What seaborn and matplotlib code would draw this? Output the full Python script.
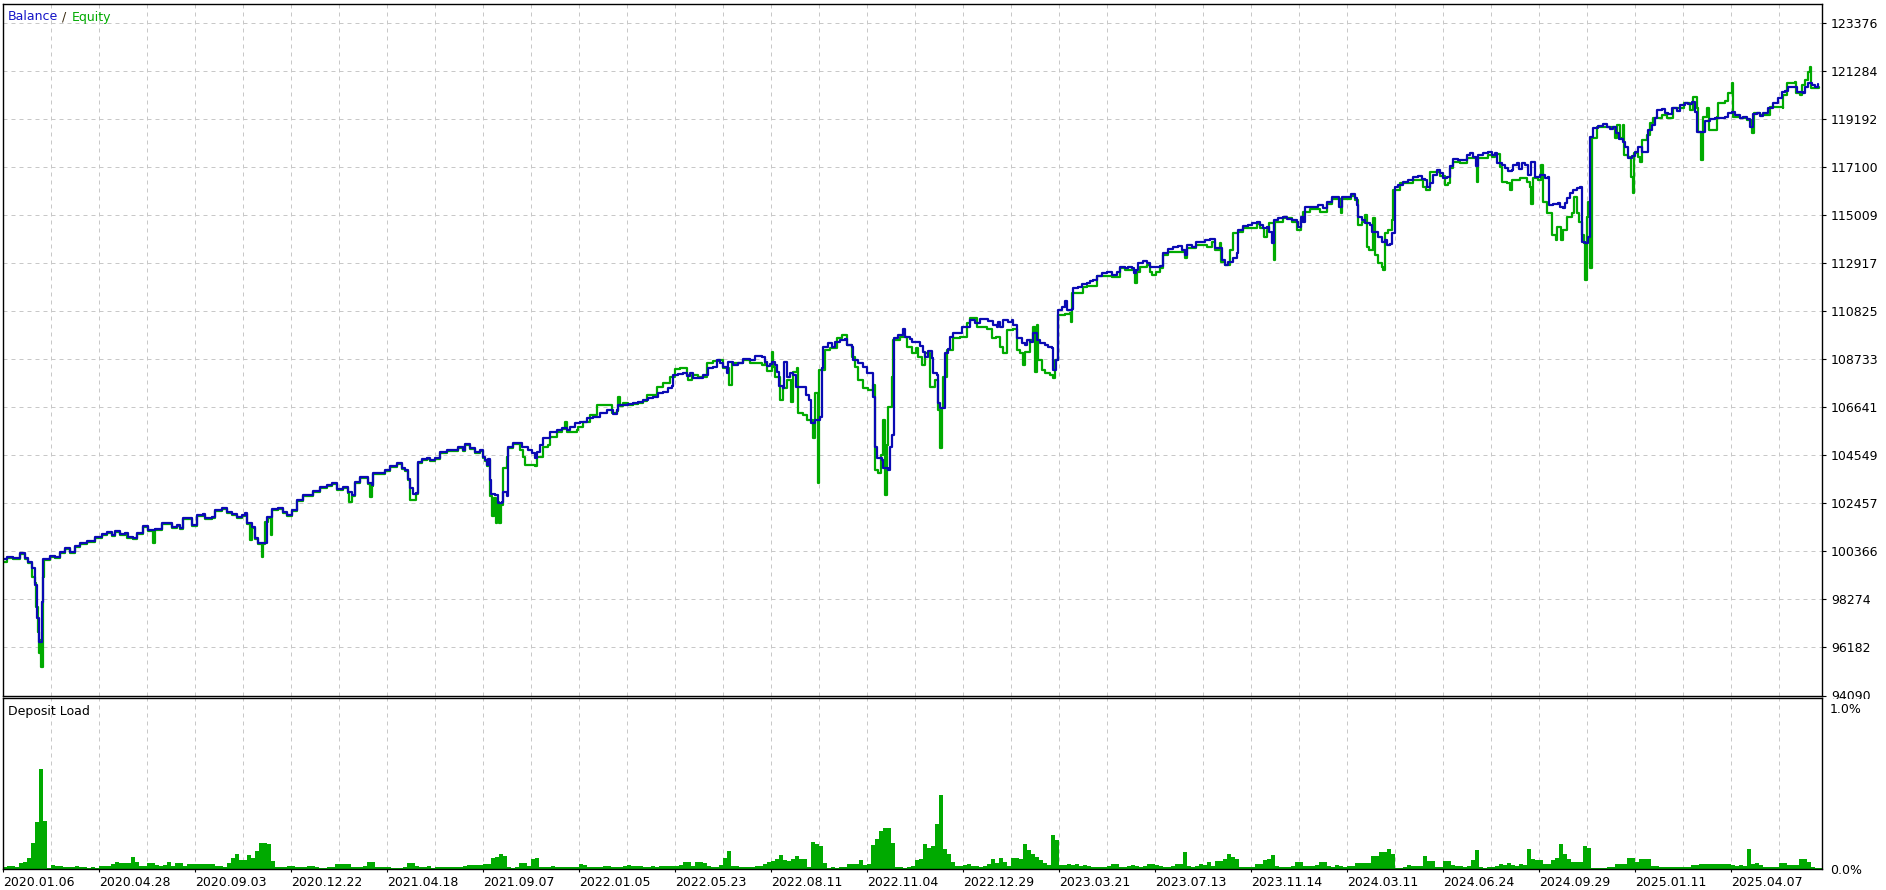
import numpy as np
import pandas as pd
import matplotlib
matplotlib.use("Agg")
import matplotlib.pyplot as plt
import seaborn as sns
from matplotlib.patches import Rectangle

# ---------------- data ----------------
y_ticks = [94090, 96182, 98274, 100366, 102457, 104549, 106641, 108733,
           110825, 112917, 115009, 117100, 119192, 121284, 123376]

date_labels = ["2020.01.06", "2020.04.28", "2020.09.03", "2020.12.22", "2021.04.18",
               "2021.09.07", "2022.01.05", "2022.05.23", "2022.08.11", "2022.11.04",
               "2022.12.29", "2023.03.21", "2023.07.13", "2023.11.14", "2024.03.11",
               "2024.06.24", "2024.09.29", "2025.01.11", "2025.04.07"]
date_label_idx = [3 + 96 * k for k in range(len(date_labels))]

# deal index (horizontal position in the tester graph) and balance
bal_x = [3, 7, 13, 20, 25, 28, 32, 35, 36.7, 39.3, 41.7, 43.3, 50, 55, 60, 65, 70, 75, 80, 86.7,
         95, 101.7, 106.7, 111.7, 115, 120, 125, 128.3, 133.3, 136.7, 143.3, 148.3, 155, 161.7, 166.7,
         171.7, 176.7, 180, 182.7, 188.3, 191.7, 196.7, 203.3, 205, 211.7, 215, 221.7, 226.7, 231.7,
         236.7, 241.7, 245, 246.7, 251.7, 255, 258.3, 265, 266.7, 271.7, 278.3, 283.3, 286.7, 291.7,
         296.7, 303.3, 308.3, 313.3, 320, 326.7, 331.7, 336.7, 343.3, 348.3, 351.7, 355, 360, 365,
         368.3, 371.7, 373.3, 380,
         385, 390, 396.7, 401.7, 405, 408.3, 410, 412.7, 416, 418.3, 421.7, 426.7, 430, 435, 440,
         446.7, 453.3, 458.3, 463.3, 465, 470, 475, 480, 482.7, 485, 486.7, 488.3, 490, 490.7, 495,
         498.3, 501.7, 503.3, 506.7, 508.3, 513.3, 518.3, 521.7, 525, 528.3, 531.7, 535, 536.7, 540,
         543.3, 550, 556.7, 561.7, 566.7, 570, 575, 580, 586.7, 593.3, 600, 606.7, 613.3, 616.7,
         618.3, 623.3, 628.3, 633.3, 638.3, 643.3, 648.3, 653.3, 658.3, 663.3, 668.3, 671.7, 673.3,
         678.3, 683.3, 686.7, 690, 693.3, 700, 703.3, 708.3, 713.3, 716.7, 720, 723.3, 726.7, 728.3,
         733.3, 738.3, 743.3, 750,
         755, 761.7, 765, 766.7, 770, 771.7, 775, 776.7, 779.3, 782.7, 784.3, 786.7, 790, 793.3, 796,
         803.3, 806, 809.3, 811, 815, 820, 821.7, 823.3, 828.3, 831.7, 835, 840, 845, 846.7, 851.7,
         853.3, 858.3, 862.7, 866.7, 871.7, 873.3, 875, 876.7, 881.7, 883.3, 888.3, 890, 891.7, 894,
         898.3, 902.7, 905, 910, 911.7, 916.7, 920, 923.3, 925, 928.3, 931.7, 933.3, 936.7, 938.3,
         940, 943.3, 945, 948.3, 950, 953.3, 958.3, 961.7, 970, 975, 980, 988.3, 993.3, 996.7, 998.3,
         1000, 1003.3, 1008.3, 1011.7, 1013.3, 1017.3, 1021.7, 1025, 1027.3, 1030, 1033.3, 1036.7,
         1040, 1045, 1048.3, 1051.7, 1053.3, 1056, 1058.3, 1061.7, 1065, 1066.7, 1071.7, 1073.3,
         1078.3, 1081.7, 1086.7, 1090, 1093.3, 1096.7, 1101.7, 1106.7, 1111.7, 1116.7, 1120,
         1125, 1128.3, 1131.7, 1134, 1136, 1138.3, 1143.3, 1146.7, 1150, 1155, 1160, 1163.3, 1168.3,
         1173.3, 1178.3, 1181.7, 1185, 1187.3, 1191.7, 1196, 1200, 1205, 1210, 1215, 1218.3, 1221.7,
         1225, 1228.3, 1233.3, 1236.7, 1238.3, 1243.3, 1248.3, 1251.7, 1256.7, 1260, 1263.3, 1266.7,
         1269.3, 1271.7, 1274, 1278.3, 1283.3, 1286.7, 1291.7, 1296.7, 1298.3, 1300.7, 1303.3, 1305,
         1310, 1315, 1318.3, 1323.3, 1326.7, 1331.7, 1336.7, 1339.3, 1341.7, 1346.7, 1350.7, 1355,
         1356.7, 1358.3, 1361.7, 1365, 1370, 1371.7, 1376.7, 1378.3, 1381.7, 1385, 1386.7, 1390,
         1391.7, 1394, 1395, 1398.3, 1403.3, 1408.3, 1413.3, 1418.3, 1421.7, 1425, 1426.7, 1430,
         1433.3, 1436.7, 1440, 1443.3, 1446.7, 1450, 1453.3, 1458.3, 1463.3, 1466.7, 1470, 1473.3,
         1476, 1478.3, 1483.3, 1488.3,
         1491.7, 1495, 1497.3, 1501.7, 1505, 1508.3, 1511.7, 1513.3, 1516.7, 1519.3, 1521.7, 1525,
         1528.3, 1530.7, 1533.3, 1535, 1540, 1545, 1548.3, 1549.3, 1553.3, 1558.3, 1560, 1563.3,
         1565, 1567.3, 1570, 1573.3, 1576.7, 1580, 1581.7, 1585, 1588.3, 1590, 1593.3, 1598.3,
         1603.3, 1606.7, 1610, 1613.3, 1616, 1619.3, 1622.7, 1625, 1628.3, 1631.7, 1635, 1638.3,
         1641.7, 1646.7, 1648.3, 1651.7, 1655, 1656.7, 1661.7, 1665, 1668.3, 1671.7, 1676.7, 1680,
         1685, 1688.3, 1691.7, 1695, 1696.7, 1701.7, 1705, 1710, 1715, 1720, 1725, 1728.3, 1731.7,
         1735, 1740, 1743.3, 1746.7, 1750, 1752.7, 1756.7, 1760, 1763.3, 1768.3, 1773.3, 1778.3,
         1781.7, 1785, 1788.3, 1795, 1796.7, 1800, 1803.3, 1805, 1808.3, 1811.7, 1815, 1818.3]

balance = [100018, 100105, 100075, 100279, 100061, 99913, 99639, 98898, 97459, 96426, 98170, 100018,
           100162, 100131, 100349, 100497, 100349, 100598, 100715, 100829, 100977, 101121, 101221,
           101077, 101264, 101121, 101177, 101003, 100933, 101151, 101469, 101295, 101325, 101587,
           101587, 101439, 101513, 101369, 101805, 101805, 101513, 101949, 101979, 101805, 101875,
           102167, 102241, 102093, 101992, 101875, 101949, 102023, 101587, 101439, 100933, 100741,
           100741, 101875, 102197, 102241, 102093, 101949, 102167, 102602, 102820, 102820, 103008,
           103182, 103256, 103330, 103069, 103182, 102964, 102820, 103400, 103618, 103618, 103330,
           103256, 103792, 103766,
           103910, 104084, 104202, 103984, 103910, 103505, 103112, 102864, 102894, 104246, 104376,
           104420, 104346, 104420, 104708, 104782, 104782, 104926, 104782, 105030, 104856, 104708,
           104782, 104490, 104346, 104128, 104376, 103474, 102864, 102820, 102460, 102529, 102964,
           102777, 104926, 105074, 105074, 104926, 104926, 104782, 104638, 104420, 104708, 105000,
           105292, 105579, 105653, 105727, 105653, 105797, 105945, 106015, 106163, 106233, 106381,
           106525, 106351, 106525, 106743, 106743, 106787, 106817, 106887, 106961, 107035, 107105,
           107253, 107323, 107471, 107571, 108051, 108094, 108151, 108007, 108151, 107907, 107907,
           108051, 108343, 108412, 108704, 108561, 108412, 108151, 108630, 108487, 108561, 108735,
           108704,
           108879, 108822, 108630, 108443, 108530, 108630, 108487, 108195, 107571, 107471, 108630,
           107977, 108125, 108051, 107541, 107541, 107179, 106961, 105945, 106089, 106233, 108343,
           109284, 109432, 109284, 109502, 109576, 109607, 109358, 109284, 108704, 108561, 108412,
           108125, 108125, 107105, 104926, 104420, 104346, 103984, 103910, 104926, 105435, 109650,
           109794, 110042, 109720, 109607, 109502, 109502, 109315, 109066, 108848, 109110, 108778,
           108151, 108051, 106817, 106599, 106599, 108996, 109171, 109720, 109868, 109868, 110156,
           110448, 110304, 110478, 110417, 110230, 110156, 110374, 110156, 110448, 110374, 110448,
           110230, 109650, 109432, 109358, 109576, 109502, 109868, 109576, 109432, 109358, 109284,
           109214, 108268, 108704, 110884, 111027, 111289, 110884, 110914, 111829, 111899, 112017,
           112074, 112161, 112191, 112366, 112483, 112553, 112409, 112553, 112771,
           112701, 112771, 112701, 112483, 112627, 112919, 113032, 112945, 112745, 112745, 112801,
           113355, 113529, 113616, 113686, 113499, 113281, 113717, 113643, 113860, 113860, 113935,
           113965, 113573, 113573, 113063, 112845, 112989, 113137, 113355, 114370, 114545, 114588,
           114662, 114732, 114588, 114444, 114514, 114296, 113791, 114806, 114880, 114950, 114837,
           114806, 114732, 114514, 114950, 114732, 115386, 115386, 115386, 115460, 115316, 115604,
           115822, 115796, 115386, 115822, 115796, 115939, 115752, 115460, 114950, 114806, 114662,
           114588, 114296, 114296, 114078, 113860, 113935, 113717, 113760, 114227, 114227, 116258,
           116332, 116476, 116550, 116694, 116724, 116580, 116550, 116258, 116406, 116768, 116986,
           116842, 116624, 116694, 117160, 117452, 117421, 117421, 117639, 117713, 117565, 117160,
           117639, 117713, 117783,
           117639, 117740, 117278, 117203, 117060, 116955, 116986, 117203, 117278, 117016, 117278,
           117203, 116768, 117347, 117347, 116694, 116768, 116624, 116667, 115460, 115504, 115534,
           115386, 115316, 115560, 115752, 115996, 116114, 116188, 116258, 113860, 113817, 114078,
           118411, 118803, 118903, 118990, 118873, 118759, 118873, 118585, 118324, 118219, 118001,
           117495, 117596, 117783, 118001, 117783, 117783, 118729, 118947, 119239, 119601, 119631,
           119457, 119426, 119675, 119570, 119819, 119919, 119862, 119962, 119527, 118655, 118655,
           119134, 119195, 119239, 119239, 119309, 119457, 119527, 119383, 119239, 119309, 119195,
           118873, 119426, 119457, 119339, 119483, 119675, 119893, 120111, 120398, 120442, 120590,
           120590, 120398, 120398, 120328, 120616, 120764, 120690, 120616, 120734]

eq_x = [3, 7, 13, 20, 25, 28, 32, 35, 36, 38, 39, 40, 41, 42.5, 43.5,
        50, 55, 60, 65, 70, 75, 80, 86.7, 95, 101.7, 106.7, 111.7, 115, 120, 125, 126.7, 128.3,
        133.3, 136.7, 143.3, 148.3, 153, 155, 161.7, 166.7, 171.7, 176.7, 180, 182.7, 188.3,
        191.7, 196.7, 203.3, 205, 211.7, 215, 221.7, 226.7, 231.7, 236.7, 241.7, 245, 246.7, 250,
        251.7, 255, 258.3, 261.7, 262.5, 265, 268, 270.7, 272, 278.3, 283.3, 286.7, 291.7, 296.7,
        303.3, 308.3, 313.3, 320, 326.7, 331.7, 336.7, 343.3, 348.3, 349, 351.7, 355, 360, 365,
        368.3, 370, 371.7, 373.3, 380,
        385, 390, 396.7, 401.7, 405, 408.3, 410, 413, 416, 418.3, 421.7, 426.7, 430, 435, 440,
        446.7, 453.3, 458.3, 463.3, 465, 470, 475, 480, 482.7, 485, 486.7, 488.3, 490, 492, 494,
        495.5, 497, 499, 501, 503.3, 506.7, 508.3, 513.3, 518.3, 520, 523.3, 525, 535, 536.7,
        543.3, 548.3, 550, 556.7, 561.7, 565, 566.7, 576.7, 578.3, 583.3, 590, 596.7, 603.3, 610,
        611.7, 616.7, 618.3, 620, 623.3, 628.3, 633.3, 638.3, 643.3, 646.7, 656.7, 663.3, 670, 675,
        680, 686.7, 688.3, 691.7, 698.3, 706.7, 713.3, 718.3, 723.3, 729.3, 731.7, 743.3, 750,
        755, 761.7, 765, 766.7, 771.7, 773, 775, 780, 783, 786.7, 790.7, 793.3, 796.7, 798.3,
        803.3, 806.7, 812.7, 815, 817.7, 819.3, 825, 830, 836.7, 841.7, 846.7, 851.7, 855, 858.3,
        863.3, 868.3, 873.3, 875, 878.3, 881, 883.3, 885.3, 886.7, 888.3, 891.7, 893.3, 900,
        906.7, 911.7, 916, 918.3, 921.7, 925, 930, 935, 938.3, 940, 941.5, 943.3, 946.7, 953.3,
        960, 966.7, 970, 976.7, 986.7, 991.7, 996, 1000, 1003.3, 1006.7, 1013.3, 1016.7, 1020,
        1022.7, 1025, 1030, 1033.3, 1035, 1036.7, 1038.3, 1041.7, 1045, 1050, 1053.3, 1055,
        1058.3, 1065, 1070, 1071, 1072.3, 1083.3, 1086.7, 1096.7, 1106.7, 1111.7, 1120,
        1125, 1131.7, 1135, 1136.5, 1140, 1146.7, 1150, 1151.7, 1156, 1160, 1163.3, 1168.3,
        1176.7, 1181.7, 1185, 1187.3, 1196, 1206.7, 1212, 1215, 1220, 1221, 1225, 1228.3, 1230,
        1233.3, 1238.3, 1243.3, 1256.7, 1260, 1264, 1266.7, 1269.3, 1274.3, 1275.3, 1283.3,
        1291.7, 1296.7, 1300.7, 1303.3, 1310, 1320, 1326.7, 1331.7, 1336.7, 1341, 1342, 1350.7,
        1355, 1358.3, 1361.7, 1365, 1366.7, 1369.3, 1373.3, 1375, 1378.3, 1381.7, 1383.3, 1385,
        1388.3, 1391.7, 1393.3, 1400, 1413.3, 1418.3, 1423.3, 1426, 1430, 1436.7, 1440, 1445,
        1448.3, 1450, 1453.3, 1460, 1466.7, 1473.3, 1476.7, 1478, 1481.7, 1488.3,
        1491.7, 1495, 1500, 1501.7, 1506.7, 1510, 1511.7, 1520, 1526.7, 1530, 1531, 1533.3,
        1538.3, 1540.7, 1542.7, 1546.7, 1551.7, 1556, 1557.3, 1560.7, 1563.3, 1567.3, 1571.7,
        1574, 1576.7, 1579.3, 1581.7, 1584, 1585.3, 1586.7, 1588.3, 1590, 1591.7, 1596.7,
        1606.7, 1615, 1616.7, 1620, 1622.7, 1624, 1628.3, 1630.7, 1632.7, 1634, 1638.3, 1640,
        1641.7, 1646.7, 1650, 1653.3, 1661.7, 1666.7, 1673.3, 1680, 1684, 1690, 1693.3, 1696.7,
        1698.3, 1700.7, 1702.7, 1706.7, 1709.3, 1711.7, 1716.7, 1718.3, 1725, 1728.3, 1731.7,
        1732.7, 1740, 1746.7, 1751.7, 1754, 1760, 1770, 1780, 1782.7, 1783.3, 1786.7, 1795, 1796,
        1800, 1801.7, 1805, 1808.3, 1810, 1811, 1815, 1819.3]

equity = [99913, 100075, 100040, 100250, 100030, 99850, 99260, 98985, 97954, 96866, 95925, 96505,
          95337, 99260, 99988,
          100120, 100100, 100300, 100460, 100300, 100560, 100680, 100790, 100940, 101080, 101180,
          101040, 101220, 101080, 101140, 100945, 100960, 100900, 101110, 101430, 101260, 100741,
          101290, 101550, 101550, 101400, 101470, 101330, 101770, 101770, 101470, 101910, 101940,
          101770, 101840, 102130, 102200, 102050, 101950, 101840, 101910, 101980, 101550, 100860,
          101400, 100900, 100700, 100131, 100700, 101660, 101830, 101077, 102160, 102200, 102050,
          101910, 102130, 102560, 102780, 102780, 102970, 103140, 103220, 103290, 103030, 103140,
          102930, 102529, 102780, 103360, 103580, 103580, 103290, 102747, 103220, 103750, 103730,
          103870, 104040, 104160, 103940, 103870, 103460, 102602, 102602, 102850, 104200, 104330,
          104380, 104300, 104380, 104670, 104740, 104740, 104880, 104740, 104990, 104810, 104670,
          104740, 104450, 104300, 104090, 104330, 102800, 101900, 102700, 101587, 102500, 101587,
          102400, 103984, 104490, 104890, 105030, 105030, 104782, 104490, 104128, 104084, 104490,
          104926, 105000, 105361, 105579, 105690, 106015, 105579, 105653, 105797, 106015, 106307,
          106743, 106743, 106743, 106381, 106490, 107105, 106700, 106817, 106750, 106780, 106850,
          106920, 107178, 107541, 107687, 107977, 108297, 108343, 108050, 107833, 108051, 107977,
          108561, 108674, 108704, 108343, 107620, 108561, 108704, 108561,
          108561, 108487, 108600, 108238, 109066, 108400, 107977, 106961, 107484, 107833, 106887,
          108195, 108343, 106381, 106307, 106089, 105292, 107253, 103335, 108268, 109140, 109214,
          109650, 109794, 109358, 108848, 108412, 107833, 107471, 107397, 107620, 103910, 103765,
          104560, 106089, 102820, 105000, 106670, 107977, 109576, 109720, 109284, 108996, 109214,
          108848, 108487, 108996, 107541, 107833, 106525, 104855, 106600, 107977, 109140, 109650,
          109720, 110304, 110522, 110156, 110042, 109650, 109720, 109284, 109023, 110012, 110042,
          109140, 108996, 108487, 109066, 109576, 110156, 108195, 110230, 108704, 108268, 108125,
          108051, 107907, 108704, 110666, 110709, 110740, 110374, 111611, 111899, 111929, 112366,
          112366, 112335, 112714,
          112627, 112627, 112047, 112540, 112745, 112845, 112540, 112409, 112540, 112714, 113281,
          113412, 113427, 113412, 113137, 113586, 113717, 113643, 113848, 113499, 113790, 112989,
          112845, 112845, 113499, 114227, 114296, 114457, 114632, 114457, 114078, 114370, 114689,
          113063, 114719, 114893, 114719, 114370, 114850, 115168, 115286, 115168, 115504, 115722,
          115722, 115098, 115722, 115852, 115678, 114588, 114719, 115024, 113643, 113499, 114880,
          113281, 112919, 112771, 112627, 114227, 114370, 114806, 116114, 116406, 116550, 116550,
          116258, 116114, 116912, 116899, 116724, 116332, 116406, 117073, 117334, 117278, 117508,
          117508, 116476, 117508, 117495, 117639,
          117552, 117683, 117130, 116476, 116406, 116114, 116550, 116624, 116476, 116258, 115504,
          116624, 116550, 117203, 115598, 115098, 114153, 113935, 114514, 113935, 114370, 114950,
          115098, 115822, 115098, 114732, 114153, 113790, 112191, 114950, 115604, 112701, 118367,
          118847, 118847, 118367, 118947, 118367, 118947, 117639, 117565, 116694, 115969, 117713,
          117565, 117347, 118293, 118511, 119021, 119239, 119383, 119239, 119675, 119675, 119893,
          119601, 120180, 119675, 118655, 117421, 119309, 119675, 118729, 118729, 119309, 119893,
          120006, 120355, 120791, 119309, 119239, 119165, 118585, 119457, 119383, 119718, 119744,
          119675, 120254, 120764, 120834, 120328, 120254, 120690, 120908, 121270, 121487, 120546,
          120546, 120590]

# deposit load (%), one bar per 4 deals starting at deal 1
load_x = [1 + 4 * i for i in range(456)]
load_pct = [
    0.012, 0.012, 0.019, 0.019, 0.012, 0.037, 0.043, 0.068, 0.161, 0.292, 0.621, 0.298, 0.006, 0.025, 0.019, 0.019, 0.012, 0.012, 0.012, 0.019, 0.012, 0.012, 0.006, 0.012,
    0.006, 0.019, 0.019, 0.019, 0.031, 0.043, 0.037, 0.037, 0.037, 0.075, 0.043, 0.019, 0.019, 0.037, 0.037, 0.025, 0.019, 0.025, 0.043, 0.019, 0.037, 0.037, 0.019, 0.031,
    0.031, 0.031, 0.031, 0.031, 0.031, 0.031, 0.019, 0.019, 0.012, 0.037, 0.068, 0.093, 0.056, 0.056, 0.087, 0.068, 0.112, 0.161, 0.161, 0.155, 0.050, 0.012, 0.012, 0.012,
    0.019, 0.019, 0.012, 0.012, 0.012, 0.019, 0.019, 0.012, 0.006, 0.006, 0.012, 0.012, 0.031, 0.031, 0.031, 0.031, 0.012, 0.012, 0.012, 0.019, 0.043, 0.043, 0.012, 0.012,
    0.012, 0.012, 0.006, 0.006, 0.006, 0.012, 0.037, 0.037, 0.019, 0.012, 0.012, 0.019, 0.006, 0.012, 0.012, 0.012, 0.012, 0.012, 0.012, 0.012, 0.019, 0.025, 0.025, 0.025,
    0.025, 0.031, 0.031, 0.068, 0.075, 0.093, 0.081, 0.012, 0.006, 0.012, 0.037, 0.037, 0.019, 0.062, 0.068, 0.012, 0.012, 0.012, 0.019, 0.012, 0.012, 0.012, 0.012, 0.012,
    0.012, 0.031, 0.025, 0.012, 0.012, 0.012, 0.012, 0.019, 0.019, 0.012, 0.012, 0.012, 0.019, 0.025, 0.019, 0.019, 0.019, 0.012, 0.012, 0.019, 0.012, 0.019, 0.019, 0.019,
    0.019, 0.019, 0.025, 0.043, 0.043, 0.019, 0.043, 0.043, 0.037, 0.019, 0.012, 0.012, 0.025, 0.068, 0.112, 0.019, 0.019, 0.012, 0.012, 0.012, 0.012, 0.019, 0.019, 0.031,
    0.043, 0.050, 0.062, 0.087, 0.056, 0.050, 0.062, 0.081, 0.062, 0.062, 0.012, 0.168, 0.155, 0.143, 0.037, 0.006, 0.012, 0.006, 0.012, 0.012, 0.031, 0.031, 0.031, 0.056,
    0.025, 0.031, 0.149, 0.186, 0.236, 0.255, 0.255, 0.161, 0.012, 0.012, 0.006, 0.012, 0.019, 0.056, 0.062, 0.155, 0.130, 0.143, 0.280, 0.460, 0.124, 0.093, 0.043, 0.019,
    0.019, 0.025, 0.031, 0.019, 0.019, 0.012, 0.019, 0.031, 0.062, 0.037, 0.068, 0.043, 0.019, 0.068, 0.068, 0.062, 0.155, 0.118, 0.093, 0.075, 0.056, 0.037, 0.025, 0.211,
    0.180, 0.025, 0.025, 0.031, 0.025, 0.031, 0.019, 0.025, 0.019, 0.012, 0.012, 0.012, 0.012, 0.019, 0.031, 0.031, 0.012, 0.012, 0.019, 0.025, 0.019, 0.012, 0.019, 0.031,
    0.031, 0.025, 0.019, 0.012, 0.012, 0.019, 0.031, 0.031, 0.106, 0.019, 0.012, 0.019, 0.031, 0.025, 0.043, 0.019, 0.050, 0.050, 0.062, 0.093, 0.075, 0.062, 0.012, 0.012,
    0.012, 0.012, 0.031, 0.031, 0.056, 0.062, 0.087, 0.019, 0.012, 0.012, 0.012, 0.019, 0.043, 0.043, 0.019, 0.019, 0.019, 0.025, 0.043, 0.043, 0.019, 0.012, 0.025, 0.019,
    0.012, 0.019, 0.019, 0.037, 0.037, 0.037, 0.037, 0.081, 0.081, 0.106, 0.106, 0.124, 0.093, 0.006, 0.006, 0.012, 0.025, 0.019, 0.019, 0.019, 0.081, 0.050, 0.050, 0.012,
    0.012, 0.050, 0.050, 0.025, 0.019, 0.019, 0.012, 0.019, 0.056, 0.118, 0.012, 0.006, 0.012, 0.012, 0.019, 0.031, 0.025, 0.037, 0.025, 0.019, 0.031, 0.025, 0.124, 0.062,
    0.056, 0.056, 0.031, 0.031, 0.056, 0.068, 0.155, 0.093, 0.062, 0.043, 0.043, 0.043, 0.143, 0.130, 0.006, 0.006, 0.006, 0.006, 0.012, 0.012, 0.031, 0.031, 0.031, 0.068,
    0.068, 0.043, 0.062, 0.062, 0.062, 0.019, 0.019, 0.012, 0.012, 0.012, 0.012, 0.012, 0.012, 0.012, 0.012, 0.025, 0.025, 0.031, 0.031, 0.031, 0.031, 0.031, 0.031, 0.031,
    0.031, 0.025, 0.019, 0.025, 0.019, 0.124, 0.031, 0.037, 0.025, 0.012, 0.012, 0.012, 0.012, 0.037, 0.037, 0.025, 0.025, 0.025, 0.062, 0.062, 0.043, 0.012, 0.006, 0.006,
]

# ---------------- style ----------------
W, H = 1886, 890
BLUE = "#0A0AB4"
GREEN = "#00AA00"
GRID = "#C8C8C8"
FS = 9

sns.set_theme(style="white")
plt.rcParams['font.family'] = ['DejaVu Sans']
plt.rcParams['text.color'] = 'black'

fig = plt.figure(figsize=(W / 100, H / 100), dpi=100)
fig.patch.set_facecolor('white')


def rect(x0, y0, x1, y1):
    return [x0 / W, 1 - y1 / H, (x1 - x0) / W, (y1 - y0) / H]


ax = fig.add_axes(rect(2.5, 4.5, 1822, 695.5), zorder=0)
ax2 = fig.add_axes(rect(2.5, 698, 1822, 869), zorder=2)

eq_df = pd.DataFrame({"deal": eq_x, "equity": equity})
bal_df = pd.DataFrame({"deal": bal_x, "balance": balance})
load_df = pd.DataFrame({"deal": load_x, "load": load_pct})

# equity then balance (balance on top)
sns.lineplot(data=eq_df, x="deal", y="equity", ax=ax, color=GREEN, linewidth=1.6,
             drawstyle='steps-post', estimator=None, sort=False)
sns.lineplot(data=bal_df, x="deal", y="balance", ax=ax, color=BLUE, linewidth=1.6,
             drawstyle='steps-post', estimator=None, sort=False)

# deposit load bars
sns.barplot(data=load_df, x="deal", y="load", ax=ax2, native_scale=True, width=0.95,
            color=GREEN, saturation=1, errorbar=None, linewidth=0)

XMIN, XMAX = 2.5, 1822
grid_major = date_label_idx
grid_minor = [p + 48 for p in date_label_idx if p + 48 < XMAX]

for a in (ax, ax2):
    a.set_xlim(XMIN, XMAX)
    a.set_xlabel('')
    a.set_ylabel('')
    a.set_facecolor('white')
    for s in a.spines.values():
        s.set_color('black')
        s.set_linewidth(1.0)
    a.set_xticks(grid_major)
    a.set_xticks(grid_minor, minor=True)
    a.xaxis.grid(True, which='both', color=GRID, linewidth=0.72, linestyle=(0, (4, 4)))
    a.set_axisbelow(True)

ax.set_ylim(94090, 124199)
ax.set_yticks(y_ticks)
ax.set_yticklabels([str(v) for v in y_ticks])
ax.yaxis.tick_right()
ax.yaxis.grid(True, which='major', color=GRID, linewidth=0.72, linestyle=(0, (4, 4)))
ax.tick_params(axis='y', which='major', right=True, left=False, length=3, width=0.8,
               pad=3.6, labelsize=FS, colors='black', direction='out')
ax.tick_params(axis='x', which='both', length=0, labelbottom=False)

ax2.set_ylim(0, 1.062)
ax2.set_yticks([0.0, 1.0])
ax2.set_yticklabels(['0.0%', '1.0%'])
ax2.yaxis.tick_right()
ax2.yaxis.grid(False)
ax2.tick_params(axis='y', which='major', right=True, left=False, length=0, width=0.8,
                pad=5.8, labelsize=FS, colors='black')
ax2.set_xticklabels(date_labels, ha='left')
ax2.tick_params(axis='x', which='major', bottom=True, length=2, width=0.8, pad=2.8,
                labelsize=FS, colors='black', direction='out')
ax2.tick_params(axis='x', which='minor', length=0)

# white strip that hides the lower part of the bottom main label, like the terminal
fig.patches.append(Rectangle((1823 / W, 1 - 706 / H), (W - 1823) / W, 7.5 / H,
                             transform=fig.transFigure, facecolor='white',
                             edgecolor='none', zorder=1))

# legend-like title text
r = fig.canvas.get_renderer()
ty = 1 - 17 / H
t1 = fig.text(8 / W, ty, "Balance", color="#1414C8", fontsize=FS, va='center', ha='left')
bb = t1.get_window_extent(r)
t2 = fig.text((bb.x1 + 4) / W, ty, "/", color="#3A2A10", fontsize=FS, va='center', ha='left')
bb2 = t2.get_window_extent(r)
fig.text((bb2.x1 + 5) / W, ty, "Equity", color="#00AA00", fontsize=FS, va='center', ha='left')

fig.text(8 / W, 1 - 711.7 / H, "Deposit Load", color='black', fontsize=FS, va='center', ha='left',
         zorder=3)

fig.savefig("out.png", dpi=100, facecolor='white')
